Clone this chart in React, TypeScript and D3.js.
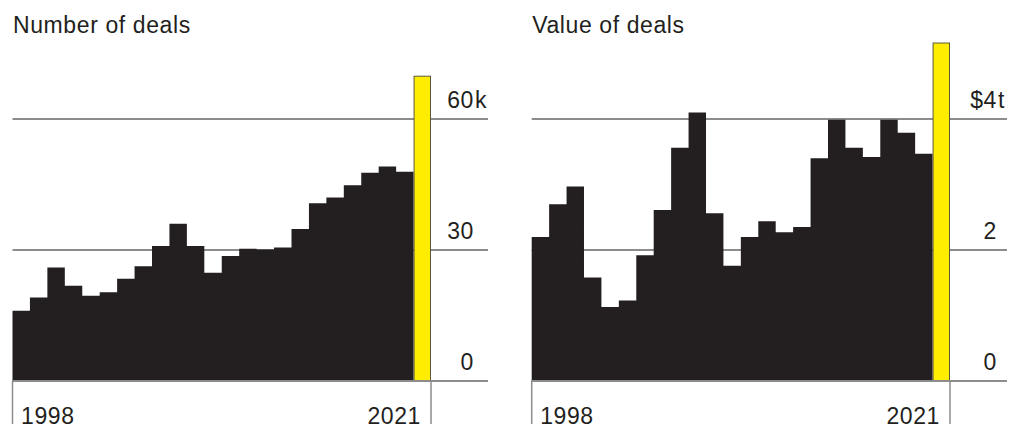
import React from "react";
import * as d3 from "d3";

// Global mergers & acquisitions, 1998–2021
const years: string[] = [
  "1998", "1999", "2000", "2001", "2002", "2003", "2004", "2005",
  "2006", "2007", "2008", "2009", "2010", "2011", "2012", "2013",
  "2014", "2015", "2016", "2017", "2018", "2019", "2020", "2021",
];

// Number of deals, thousands
const dealCounts: number[] = [
  16.1, 19.1, 26.0, 21.8, 19.5, 20.3, 23.4, 26.3, 30.9, 36.0, 30.9, 24.8,
  28.6, 30.3, 30.1, 30.6, 34.8, 40.7, 42.0, 44.8, 47.7, 49.1, 47.9, 69.8,
];

// Value of deals, $ trillion
const dealValues: number[] = [
  2.20, 2.70, 2.97, 1.58, 1.13, 1.23, 1.92, 2.61, 3.56, 4.10, 2.56, 1.76,
  2.20, 2.44, 2.27, 2.35, 3.40, 3.99, 3.56, 3.42, 3.99, 3.79, 3.47, 5.16,
];

const countTicks: number[] = [0, 30, 60];
const countTickLabels: string[] = ["0", "30", "60"];
const countTickSuffix: string[] = ["", "", "k"];

const valueTicks: number[] = [0, 2, 4];
const valueTickLabels: string[] = ["0", "2", "4"];
const valueTickPrefix: string[] = ["", "", "$"];
const valueTickSuffix: string[] = ["", "", "t"];

const W = 1009;
const H = 428;
const FONT = "'Liberation Sans', Arial, Helvetica, sans-serif";
const INK = "#231f20";
const GRID = "#8c8c8c";
const HIGHLIGHT = "#ffed00";

type PanelProps = {
  title: string;
  values: number[];
  domainMax: number;
  ticks: number[];
  tickLabels: string[];
  prefix: string[];
  suffix: string[];
  x0: number;
  x1: number;
  gridEnd: number;
  labelX: number;
};

function Panel({ title, values, domainMax, ticks, tickLabels, prefix, suffix, x0, x1, gridEnd, labelX }: PanelProps) {
  const baseY = 381;
  const topY = 119;
  const x = d3.scaleBand<string>().domain(years).range([x0, x1]).padding(0);
  const y = d3.scaleLinear().domain([0, domainMax]).range([baseY, topY]);
  const last = years.length - 1;

  // Black bars drawn as one stepped silhouette, the final year picked out in yellow
  const steps: [number, number][] = [];
  years.slice(0, last).forEach((yr, i) => {
    const xl = x(yr)!;
    steps.push([xl, y(values[i])]);
    steps.push([xl + x.bandwidth(), y(values[i])]);
  });
  const area = d3
    .area<[number, number]>()
    .x((d) => d[0])
    .y0(y(0))
    .y1((d) => d[1]);

  const hx = x(years[last])!;
  const hv = values[last];

  return (
    <g>
      <text x={x0 + 0.5} y={32.5} fontSize={23} fill={INK} fontFamily={FONT} letterSpacing={0.6}>
        {title}
      </text>
      {ticks.map((t) => (
        <line key={"g" + t} x1={x0} x2={gridEnd} y1={y(t)} y2={y(t)} stroke={GRID} strokeWidth={1.8} />
      ))}
      <path d={area(steps) ?? ""} fill={INK} />
      <rect
        x={hx + 0.5}
        y={y(hv)}
        width={x.bandwidth() - 1}
        height={y(0) - y(hv)}
        fill={HIGHLIGHT}
        stroke="#5a5a3a"
        strokeWidth={1}
      />
      <line x1={x0} x2={gridEnd} y1={y(0)} y2={y(0)} stroke={GRID} strokeWidth={1.8} />
      <line x1={x0} x2={x0} y1={y(0)} y2={424} stroke={GRID} strokeWidth={1.5} />
      <line x1={x1} x2={x1} y1={y(0)} y2={424} stroke={GRID} strokeWidth={1.5} />
      {ticks.map((t, i) => (
        <g key={"l" + t} fontSize={23} fill={INK} fontFamily={FONT} letterSpacing={0.6}>
          <text x={labelX} y={y(t) - 11} textAnchor="end">
            {prefix[i] + tickLabels[i]}
          </text>
          {suffix[i] && (
            <text x={labelX + 1} y={y(t) - 11} textAnchor="start">
              {suffix[i]}
            </text>
          )}
        </g>
      ))}
      <text x={x0 + 8.5} y={424} fontSize={23} fill={INK} fontFamily={FONT} letterSpacing={0.6}>
        {years[0]}
      </text>
      <text x={x1 - 10} y={424} fontSize={23} fill={INK} fontFamily={FONT} letterSpacing={0.6} textAnchor="end">
        {years[last]}
      </text>
    </g>
  );
}

export default function App() {
  return (
    <svg
      width={W}
      height={H}
      viewBox={`0 0 ${W} ${H}`}
      style={{ position: "absolute", left: 0, top: 0, background: "#fff" }}
    >
      <rect width={W} height={H} fill="#fff" />
      <Panel
        title="Number of deals"
        values={dealCounts}
        domainMax={60}
        ticks={countTicks}
        tickLabels={countTickLabels}
        prefix={["", "", ""]}
        suffix={countTickSuffix}
        x0={12.5}
        x1={431}
        gridEnd={488}
        labelX={474}
      />
      <Panel
        title="Value of deals"
        values={dealValues}
        domainMax={4}
        ticks={valueTicks}
        tickLabels={valueTickLabels}
        prefix={valueTickPrefix}
        suffix={valueTickSuffix}
        x0={531.7}
        x1={950}
        gridEnd={1007}
        labelX={997}
      />
    </svg>
  );
}
